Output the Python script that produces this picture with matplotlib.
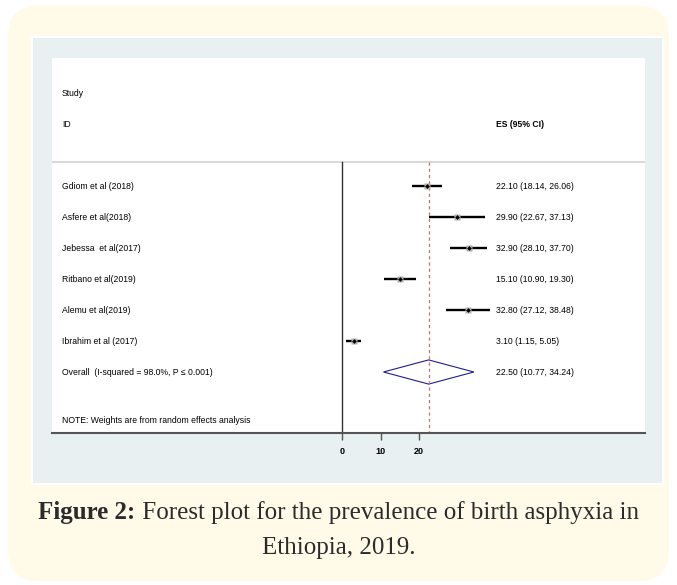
import numpy as np
import matplotlib.pyplot as plt
from matplotlib.patches import FancyBboxPatch, Rectangle, Polygon

# -----------------------
# data
# -----------------------
studies = ["Gdiom et al (2018)", "Asfere et al(2018)", "Jebessa  et al(2017)",
           "Ritbano et al(2019)", "Alemu et al(2019)", "Ibrahim et al (2017)"]
es = [22.10, 29.90, 32.90, 15.10, 32.80, 3.10]
lo = [18.14, 22.67, 28.10, 10.90, 27.12, 1.15]
hi = [26.06, 37.13, 37.70, 19.30, 38.48, 5.05]

overall_es, overall_lo, overall_hi = 22.50, 10.77, 34.24
overall_label = "Overall  (I-squared = 98.0%, P \u2264 0.001)"
note = "NOTE: Weights are from random effects analysis"
xticks = [0, 10, 20]

W, H = 677, 585
fig = plt.figure(figsize=(W / 100, H / 100), dpi=100)
fig.patch.set_facecolor("white")

# -----------------------
# background (pixel coords)
# -----------------------
bg = fig.add_axes([0, 0, 1, 1], zorder=0)
bg.set_xlim(0, W)
bg.set_ylim(H, 0)
bg.axis("off")
bg.add_patch(FancyBboxPatch((8, 6), W - 16, H - 10, boxstyle="round,pad=0,rounding_size=30",
                            fc="#fffbe8", ec="none"))
bg.add_patch(Rectangle((31, 36), 633, 449, fc="white", ec="none"))
bg.add_patch(Rectangle((33, 38), 629, 445, fc="#e8f0f2", ec="none"))

# caption with bold prefix
cap_font = dict(family="Liberation Serif", fontsize=18, color="#2b2b2b")
r = fig.canvas.get_renderer()
t1 = bg.text(0, 513, "Figure 2:", fontweight="bold", va="center", **cap_font)
t2 = bg.text(0, 513, " Forest plot for the prevalence of birth asphyxia in", va="center", **cap_font)
w1 = t1.get_window_extent(r).width
w2 = t2.get_window_extent(r).width
x0 = W / 2 - (w1 + w2) / 2
t1.set_x(x0)
t2.set_x(x0 + w1)
bg.text(W / 2, 548, "Ethiopia, 2019.", ha="center", va="center", **cap_font)

# -----------------------
# forest plot
# -----------------------
left, right, top, bottom = 52, 645, 58, 433
ax = fig.add_axes([left / W, 1 - bottom / H, (right - left) / W, (bottom - top) / H], zorder=1)
ax.set_facecolor("white")

px_per_unit = 3.85
zero_px = 342
ax.set_xlim((left - zero_px) / px_per_unit, (right - zero_px) / px_per_unit)
row_px, row_step = 186, 31.0
ax.set_ylim((bottom - row_px) / row_step, (top - row_px) / row_step)

for s in ["top", "left", "right"]:
    ax.spines[s].set_visible(False)
ax.spines["bottom"].set_color("#555555")
ax.spines["bottom"].set_linewidth(1.5)
ax.set_yticks([])
ax.set_xticks(xticks)
ax.tick_params(axis="x", length=5, width=1, color="#555555", pad=5, labelsize=6.5)
for lab in ax.get_xticklabels():
    lab.set_fontweight("bold")
    lab.set_family("Liberation Sans")

sep_y = (162 - row_px) / row_step
ax.axhline(sep_y, color="#d9d9d9", lw=1.5)
ax.plot([0, 0], [sep_y, ax.get_ylim()[0]], color="#333333", lw=1.0)
ax.plot([overall_es, overall_es], [sep_y, ax.get_ylim()[0]], color="#c0706f",
        lw=0.9, ls=(0, (2.5, 2.5)))

txt = dict(family=["Liberation Sans", "DejaVu Sans"], fontsize=6.2, va="center", color="black")
label_x = (62 - zero_px) / px_per_unit
es_x = (496 - zero_px) / px_per_unit

ax.text(label_x, -3, "Study", **txt)
ax.text(label_x, -2, "ID", **txt)
ax.text(es_x, -2, "ES (95% CI)", fontweight="bold", **txt)

rows = np.arange(len(studies))
for i, name in enumerate(studies):
    ax.plot([lo[i], hi[i]], [rows[i], rows[i]], color="black", lw=1.7, solid_capstyle="butt")
    ax.plot(es[i], rows[i], marker="s", ms=5, color="#b0b0b0", mec="none")
    ax.plot(es[i], rows[i], marker="D", ms=2.4, color="black", mec="none")
    ax.text(label_x, rows[i], name, **txt)
    ax.text(es_x, rows[i], f"{es[i]:.2f} ({lo[i]:.2f}, {hi[i]:.2f})", **txt)

oy = len(studies)
h = 0.39
ax.add_patch(Polygon([[overall_lo, oy], [overall_es, oy - h], [overall_hi, oy], [overall_es, oy + h]],
                     closed=True, fill=False, ec="#1f1f8a", lw=0.8))
ax.text(label_x, oy, overall_label, **txt)
ax.text(es_x, oy, f"{overall_es:.2f} ({overall_lo:.2f}, {overall_hi:.2f})", **txt)
ax.text(label_x, (420 - row_px) / row_step, note, **txt)

fig.savefig("out.png", dpi=100)
